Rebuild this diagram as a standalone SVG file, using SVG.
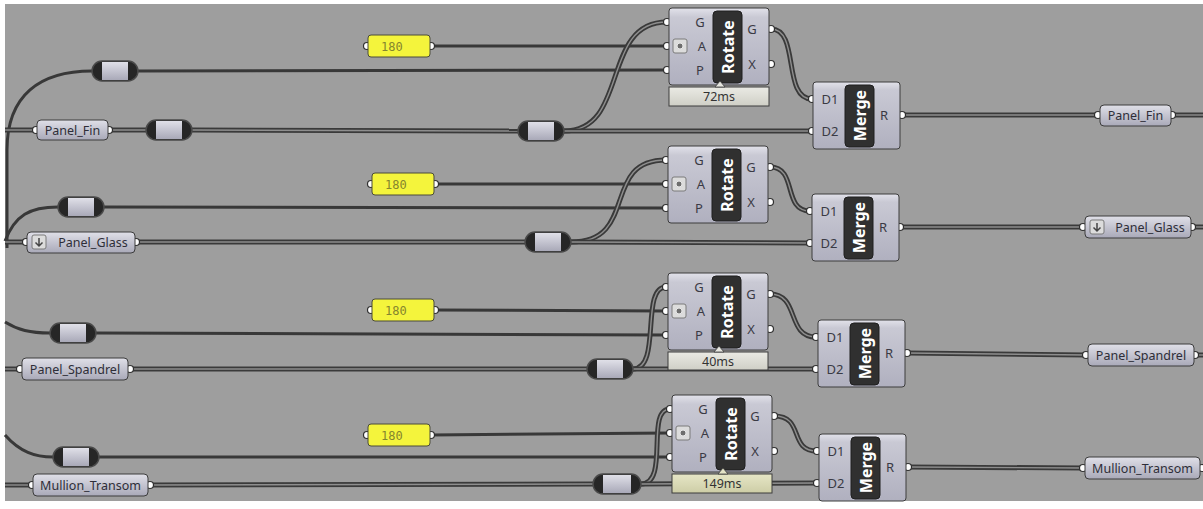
<svg xmlns="http://www.w3.org/2000/svg" xmlns:xlink="http://www.w3.org/1999/xlink" width="1203" height="509" viewBox="0 0 1203 509">
<defs>
<linearGradient id="gBody" x1="0" y1="0" x2="0" y2="1">
<stop offset="0" stop-color="#e2e2ea"/><stop offset="0.12" stop-color="#c9c9d4"/><stop offset="1" stop-color="#b0b0bf"/>
</linearGradient>
<linearGradient id="gPanel" x1="0" y1="0" x2="0" y2="1">
<stop offset="0" stop-color="#e0e0e8"/><stop offset="0.5" stop-color="#c4c4d0"/><stop offset="1" stop-color="#a9a9b8"/>
</linearGradient>
<linearGradient id="gBar" x1="0" y1="0" x2="0" y2="1">
<stop offset="0" stop-color="#eaeae4"/><stop offset="1" stop-color="#cfcfc6"/>
</linearGradient>
<linearGradient id="gBarY" x1="0" y1="0" x2="0" y2="1">
<stop offset="0" stop-color="#e6e6c6"/><stop offset="1" stop-color="#cdcda6"/>
</linearGradient>
<style>
.w1{fill:none;stroke:#383838;stroke-width:3}
.w2o{fill:none;stroke:#3a3a3a;stroke-width:5}
.w2i{fill:none;stroke:#8e8e8e;stroke-width:1.4}
.grip{fill:#ffffff;stroke:#303030;stroke-width:1.2}
.pbody{fill:url(#gPanel);stroke:#3c3c3c;stroke-width:1}
.cbody{fill:url(#gBody);stroke:#3c3c3c;stroke-width:1}
.plab{font-family:"Noto Sans","Open Sans",sans-serif;font-size:12.5px;fill:#2e2e38;text-anchor:middle}
.port{font-family:"Noto Sans","Open Sans",sans-serif;font-size:13px;fill:#3a3a44;text-anchor:middle}
.blk{fill:#303030;stroke:#1e1e1e;stroke-width:1}
.btxt{font-family:"Noto Sans","DejaVu Sans",sans-serif;font-size:16px;font-weight:bold;fill:#ffffff;text-anchor:middle}
.rcap{fill:#262626;stroke:#4a4a4a;stroke-width:1.5}
.rmid{fill:url(#gPanel)}
.slider{fill:#f4f43c;stroke:#4a4a3a;stroke-width:1}
.stxt{font-family:"DejaVu Sans Mono","Liberation Mono",monospace;font-size:12px;fill:#85852e}
.bar{fill:url(#gBar);stroke:#3c3c3c;stroke-width:1}
.barY{fill:url(#gBarY);stroke:#3c3c3c;stroke-width:1}
.btx{font-family:"Noto Sans","Open Sans",sans-serif;font-size:12.5px;fill:#333333;text-anchor:middle}
.ico{fill:#dcdcdc;stroke:#7a7a7a;stroke-width:1}
.icoc{fill:#6e6e6e;stroke:#e8e8e8;stroke-width:1}
</style>
<path id="a1" d="M5,130 L36,130"/>
<path id="a2" d="M109,130 L146,130"/>
<path id="a3" d="M192,130 L518,131"/>
<path id="a4" d="M564,131 C630,131 600,22 667,22"/>
<path id="a5" d="M564,131 L812,131"/>
<path id="a6" d="M771,29 C800,29 782,99 812,99"/>
<path id="a7" d="M902,115 L1098,115"/>
<path id="a8" d="M1172,115 L1203,115"/>
<path id="b1" d="M5,242 L26,242"/>
<path id="b2" d="M136,242 L525,242"/>
<path id="b3" d="M571,242 C640,242 600,160 666,160"/>
<path id="b4" d="M571,242 L810,243"/>
<path id="b5" d="M770,167 C798,167 782,211 810,211"/>
<path id="b6" d="M900,227 L1083,227"/>
<path id="b7" d="M1192,227 L1203,227"/>
<path id="c1" d="M5,369 L20,369"/>
<path id="c2" d="M130,369 L587,369"/>
<path id="c3" d="M633,369 C662,369 640,287 666,287"/>
<path id="c4" d="M633,369 L816,369"/>
<path id="c5" d="M770,294 C800,294 786,337 816,337"/>
<path id="c6" d="M907,353 L1086,355"/>
<path id="c7" d="M1195,355 L1203,355"/>
<path id="d1" d="M5,485 L32,485"/>
<path id="d2" d="M150,485 L593,484"/>
<path id="d3" d="M641,484 C670,484 645,409 670,409"/>
<path id="d4" d="M641,484 L817,483"/>
<path id="d5" d="M774,416 C805,416 788,451 817,451"/>
<path id="d6" d="M908,467 L1083,468"/>
</defs>
<rect x="0" y="0" width="1203" height="509" fill="#ffffff"/>
<rect x="5" y="4" width="1198" height="497" fill="#9e9e9e"/>

<g id="connectors">
<path class="w1" d="M431,46 L667,46"/>
<path class="w1" d="M138,71 L667,70"/>
<path class="w1" d="M7,248 L7,150 C7,95 40,71 92,71"/>
<path class="w1" d="M435,184 L666,184"/>
<path class="w1" d="M104,207 L666,208"/>
<path class="w1" d="M5,241 C15,215 30,207 58,207"/>
<path class="w1" d="M435,310 L666,311"/>
<path class="w1" d="M96,333 L666,335"/>
<path class="w1" d="M5,322 C18,330 30,333 50,333"/>
<path class="w1" d="M431,435 L670,433"/>
<path class="w1" d="M99,457 L670,457"/>
<path class="w1" d="M5,435 C20,452 35,457 53,457"/>
<use xlink:href="#a1" class="w2o"/><use xlink:href="#a1" class="w2i"/>
<use xlink:href="#a2" class="w2o"/><use xlink:href="#a2" class="w2i"/>
<use xlink:href="#a3" class="w2o"/><use xlink:href="#a3" class="w2i"/>
<use xlink:href="#a4" class="w2o"/><use xlink:href="#a4" class="w2i"/>
<use xlink:href="#a5" class="w2o"/><use xlink:href="#a5" class="w2i"/>
<use xlink:href="#a6" class="w2o"/><use xlink:href="#a6" class="w2i"/>
<use xlink:href="#a7" class="w2o"/><use xlink:href="#a7" class="w2i"/>
<use xlink:href="#a8" class="w2o"/><use xlink:href="#a8" class="w2i"/>
<use xlink:href="#b1" class="w2o"/><use xlink:href="#b1" class="w2i"/>
<use xlink:href="#b2" class="w2o"/><use xlink:href="#b2" class="w2i"/>
<use xlink:href="#b3" class="w2o"/><use xlink:href="#b3" class="w2i"/>
<use xlink:href="#b4" class="w2o"/><use xlink:href="#b4" class="w2i"/>
<use xlink:href="#b5" class="w2o"/><use xlink:href="#b5" class="w2i"/>
<use xlink:href="#b6" class="w2o"/><use xlink:href="#b6" class="w2i"/>
<use xlink:href="#b7" class="w2o"/><use xlink:href="#b7" class="w2i"/>
<use xlink:href="#c1" class="w2o"/><use xlink:href="#c1" class="w2i"/>
<use xlink:href="#c2" class="w2o"/><use xlink:href="#c2" class="w2i"/>
<use xlink:href="#c3" class="w2o"/><use xlink:href="#c3" class="w2i"/>
<use xlink:href="#c4" class="w2o"/><use xlink:href="#c4" class="w2i"/>
<use xlink:href="#c5" class="w2o"/><use xlink:href="#c5" class="w2i"/>
<use xlink:href="#c6" class="w2o"/><use xlink:href="#c6" class="w2i"/>
<use xlink:href="#c7" class="w2o"/><use xlink:href="#c7" class="w2i"/>
<use xlink:href="#d1" class="w2o"/><use xlink:href="#d1" class="w2i"/>
<use xlink:href="#d2" class="w2o"/><use xlink:href="#d2" class="w2i"/>
<use xlink:href="#d3" class="w2o"/><use xlink:href="#d3" class="w2i"/>
<use xlink:href="#d4" class="w2o"/><use xlink:href="#d4" class="w2i"/>
<use xlink:href="#d5" class="w2o"/><use xlink:href="#d5" class="w2i"/>
<use xlink:href="#d6" class="w2o"/><use xlink:href="#d6" class="w2i"/>
</g>

<!-- Group 1 -->
<g id="slider-1">
<circle class="grip" cx="367" cy="46" r="3.5"/><circle class="grip" cx="431" cy="46" r="3.5"/>
<rect class="slider" x="368" y="35" width="62" height="22" rx="3"/>
<text class="stxt" x="381" y="50.5">180</text>
</g>
<g id="relay-1a">
<rect class="rcap" x="92" y="61" width="46" height="20" rx="10"/>
<rect class="rmid" x="102" y="62" width="26" height="18"/>
</g>
<g id="panel-fin-in">
<circle class="grip" cx="36" cy="130" r="3.5"/><circle class="grip" cx="109" cy="130" r="3.5"/>
<rect class="pbody" x="37" y="120" width="71" height="20" rx="4"/>
<text class="plab" x="72.5" y="134.5">Panel_Fin</text>
</g>
<g id="relay-1b">
<rect class="rcap" x="146" y="120" width="46" height="20" rx="10"/>
<rect class="rmid" x="156" y="121" width="26" height="18"/>
</g>
<g id="relay-1c">
<rect class="rcap" x="518" y="121" width="46" height="20" rx="10"/>
<rect class="rmid" x="528" y="122" width="26" height="18"/>
</g>
<g id="rotate-1">
<circle class="grip" cx="667" cy="22" r="3.5"/><circle class="grip" cx="667" cy="46" r="3.5"/><circle class="grip" cx="667" cy="70" r="3.5"/>
<circle class="grip" cx="771" cy="29" r="3.5"/><circle class="grip" cx="771" cy="64" r="3.5"/>
<rect class="cbody" x="669" y="8" width="100" height="77" rx="3"/>
<rect class="blk" x="713" y="11" width="29" height="72" rx="4"/>
<text class="btxt" transform="translate(733.5,47) rotate(-90)">Rotate</text>
<text class="port" x="700" y="27">G</text>
<rect class="ico" x="673" y="39" width="14" height="14" rx="2"/><circle class="icoc" cx="680" cy="46" r="3"/>
<text class="port" x="702" y="51">A</text>
<text class="port" x="700" y="75">P</text>
<text class="port" x="752" y="34">G</text>
<text class="port" x="752" y="69">X</text>
<rect class="bar" x="669" y="87" width="100" height="19"/>
<polygon points="715,87 720,81 725,87" fill="#e6e6e0" stroke="#3c3c3c" stroke-width="0.8"/>
<text class="btx" x="719" y="101">72ms</text>
</g>
<g id="merge-1">
<circle class="grip" cx="812" cy="99" r="3.5"/><circle class="grip" cx="812" cy="131" r="3.5"/><circle class="grip" cx="902" cy="115" r="3.5"/>
<rect class="cbody" x="813" y="82" width="87" height="67" rx="3"/>
<rect class="blk" x="845" y="85" width="29" height="62" rx="4"/>
<text class="btxt" transform="translate(865.5,115.5) rotate(-90)">Merge</text>
<text class="port" x="830" y="104">D1</text>
<text class="port" x="830" y="136">D2</text>
<text class="port" x="884" y="120">R</text>
</g>
<g id="panel-fin-out">
<circle class="grip" cx="1098" cy="115" r="3.5"/><circle class="grip" cx="1172" cy="115" r="3.5"/>
<rect class="pbody" x="1100" y="105" width="71" height="21" rx="4"/>
<text class="plab" x="1135.5" y="120">Panel_Fin</text>
</g>

<!-- Group 2 -->
<g id="slider-2">
<circle class="grip" cx="371" cy="184" r="3.5"/><circle class="grip" cx="435" cy="184" r="3.5"/>
<rect class="slider" x="372" y="173" width="62" height="22" rx="3"/>
<text class="stxt" x="385" y="188.5">180</text>
</g>
<g id="relay-2a">
<rect class="rcap" x="58" y="197" width="46" height="20" rx="10"/>
<rect class="rmid" x="68" y="198" width="26" height="18"/>
</g>
<g id="panel-glass-in">
<circle class="grip" cx="26" cy="242" r="3.5"/><circle class="grip" cx="136" cy="242" r="3.5"/>
<rect class="pbody" x="27" y="232" width="108" height="21" rx="4"/>
<rect class="ico" x="32" y="235" width="14" height="14" rx="2" fill="#e4e4e8"/>
<path d="M39,238 L39,246 M35.5,242.5 L39,246 L42.5,242.5" fill="none" stroke="#444" stroke-width="1.5"/>
<text class="plab" x="93" y="247">Panel_Glass</text>
</g>
<g id="relay-2b">
<rect class="rcap" x="525" y="232" width="46" height="20" rx="10"/>
<rect class="rmid" x="535" y="233" width="26" height="18"/>
</g>
<g id="rotate-2">
<circle class="grip" cx="666" cy="160" r="3.5"/><circle class="grip" cx="666" cy="184" r="3.5"/><circle class="grip" cx="666" cy="208" r="3.5"/>
<circle class="grip" cx="770" cy="167" r="3.5"/><circle class="grip" cx="770" cy="202" r="3.5"/>
<rect class="cbody" x="668" y="146" width="100" height="77" rx="3"/>
<rect class="blk" x="712" y="149" width="29" height="72" rx="4"/>
<text class="btxt" transform="translate(732.5,185) rotate(-90)">Rotate</text>
<text class="port" x="699" y="165">G</text>
<rect class="ico" x="672" y="177" width="14" height="14" rx="2"/><circle class="icoc" cx="679" cy="184" r="3"/>
<text class="port" x="701" y="189">A</text>
<text class="port" x="699" y="213">P</text>
<text class="port" x="751" y="172">G</text>
<text class="port" x="751" y="207">X</text>
</g>
<g id="merge-2">
<circle class="grip" cx="810" cy="211" r="3.5"/><circle class="grip" cx="810" cy="243" r="3.5"/><circle class="grip" cx="900" cy="227" r="3.5"/>
<rect class="cbody" x="812" y="194" width="87" height="67" rx="3"/>
<rect class="blk" x="844" y="197" width="29" height="62" rx="4"/>
<text class="btxt" transform="translate(864.5,227.5) rotate(-90)">Merge</text>
<text class="port" x="829" y="216">D1</text>
<text class="port" x="829" y="248">D2</text>
<text class="port" x="883" y="232">R</text>
</g>
<g id="panel-glass-out">
<circle class="grip" cx="1083" cy="227" r="3.5"/><circle class="grip" cx="1192" cy="227" r="3.5"/>
<rect class="pbody" x="1085" y="216" width="106" height="22" rx="4"/>
<rect class="ico" x="1090" y="220" width="14" height="14" rx="2" fill="#e4e4e8"/>
<path d="M1097,223 L1097,231 M1093.5,227.5 L1097,231 L1100.5,227.5" fill="none" stroke="#444" stroke-width="1.5"/>
<text class="plab" x="1150" y="232">Panel_Glass</text>
</g>

<!-- Group 3 -->
<g id="slider-3">
<circle class="grip" cx="371" cy="310" r="3.5"/><circle class="grip" cx="435" cy="310" r="3.5"/>
<rect class="slider" x="372" y="299" width="62" height="22" rx="3"/>
<text class="stxt" x="385" y="314.5">180</text>
</g>
<g id="relay-3a">
<rect class="rcap" x="50" y="323" width="46" height="20" rx="10"/>
<rect class="rmid" x="60" y="324" width="26" height="18"/>
</g>
<g id="panel-spandrel-in">
<circle class="grip" cx="20" cy="369" r="3.5"/><circle class="grip" cx="130" cy="369" r="3.5"/>
<rect class="pbody" x="22" y="358" width="106" height="22" rx="4"/>
<text class="plab" x="75" y="373.5">Panel_Spandrel</text>
</g>
<g id="relay-3b">
<rect class="rcap" x="587" y="359" width="46" height="20" rx="10"/>
<rect class="rmid" x="597" y="360" width="26" height="18"/>
</g>
<g id="rotate-3">
<circle class="grip" cx="666" cy="287" r="3.5"/><circle class="grip" cx="666" cy="311" r="3.5"/><circle class="grip" cx="666" cy="335" r="3.5"/>
<circle class="grip" cx="770" cy="294" r="3.5"/><circle class="grip" cx="770" cy="329" r="3.5"/>
<rect class="cbody" x="668" y="273" width="100" height="77" rx="3"/>
<rect class="blk" x="712" y="276" width="29" height="72" rx="4"/>
<text class="btxt" transform="translate(732.5,312) rotate(-90)">Rotate</text>
<text class="port" x="699" y="292">G</text>
<rect class="ico" x="672" y="304" width="14" height="14" rx="2"/><circle class="icoc" cx="679" cy="311" r="3"/>
<text class="port" x="701" y="316">A</text>
<text class="port" x="699" y="340">P</text>
<text class="port" x="751" y="299">G</text>
<text class="port" x="751" y="334">X</text>
<rect class="bar" x="668" y="352" width="100" height="18"/>
<polygon points="714,352 719,346 724,352" fill="#e6e6e0" stroke="#3c3c3c" stroke-width="0.8"/>
<text class="btx" x="718" y="366">40ms</text>
</g>
<g id="merge-3">
<circle class="grip" cx="816" cy="337" r="3.5"/><circle class="grip" cx="816" cy="369" r="3.5"/><circle class="grip" cx="907" cy="353" r="3.5"/>
<rect class="cbody" x="818" y="320" width="87" height="67" rx="3"/>
<rect class="blk" x="850" y="323" width="29" height="62" rx="4"/>
<text class="btxt" transform="translate(870.5,353.5) rotate(-90)">Merge</text>
<text class="port" x="835" y="342">D1</text>
<text class="port" x="835" y="374">D2</text>
<text class="port" x="889" y="358">R</text>
</g>
<g id="panel-spandrel-out">
<circle class="grip" cx="1086" cy="355" r="3.5"/><circle class="grip" cx="1195" cy="355" r="3.5"/>
<rect class="pbody" x="1088" y="344" width="106" height="22" rx="4"/>
<text class="plab" x="1141" y="359.5">Panel_Spandrel</text>
</g>

<!-- Group 4 -->
<g id="slider-4">
<circle class="grip" cx="367" cy="435" r="3.5"/><circle class="grip" cx="431" cy="435" r="3.5"/>
<rect class="slider" x="368" y="424" width="62" height="22" rx="3"/>
<text class="stxt" x="381" y="439.5">180</text>
</g>
<g id="relay-4a">
<rect class="rcap" x="53" y="447" width="46" height="20" rx="10"/>
<rect class="rmid" x="63" y="448" width="26" height="18"/>
</g>
<g id="panel-mullion-in">
<circle class="grip" cx="32" cy="485" r="3.5"/><circle class="grip" cx="150" cy="485" r="3.5"/>
<rect class="pbody" x="33" y="474" width="115" height="22" rx="4"/>
<text class="plab" x="90.5" y="489.5">Mullion_Transom</text>
</g>
<g id="relay-4b">
<rect class="rcap" x="593" y="474" width="48" height="20" rx="10"/>
<rect class="rmid" x="603" y="475" width="28" height="18"/>
</g>
<g id="rotate-4">
<circle class="grip" cx="670" cy="409" r="3.5"/><circle class="grip" cx="670" cy="433" r="3.5"/><circle class="grip" cx="670" cy="457" r="3.5"/>
<circle class="grip" cx="774" cy="416" r="3.5"/><circle class="grip" cx="774" cy="451" r="3.5"/>
<rect class="cbody" x="672" y="395" width="100" height="77" rx="3"/>
<rect class="blk" x="716" y="398" width="29" height="72" rx="4"/>
<text class="btxt" transform="translate(736.5,434) rotate(-90)">Rotate</text>
<text class="port" x="703" y="414">G</text>
<rect class="ico" x="676" y="426" width="14" height="14" rx="2"/><circle class="icoc" cx="683" cy="433" r="3"/>
<text class="port" x="705" y="438">A</text>
<text class="port" x="703" y="462">P</text>
<text class="port" x="755" y="421">G</text>
<text class="port" x="755" y="456">X</text>
<rect class="barY" x="672" y="474" width="100" height="19"/>
<polygon points="718,474 723,468 728,474" fill="#e4e4c8" stroke="#3c3c3c" stroke-width="0.8"/>
<text class="btx" x="722" y="488">149ms</text>
</g>
<g id="merge-4">
<circle class="grip" cx="817" cy="451" r="3.5"/><circle class="grip" cx="817" cy="483" r="3.5"/><circle class="grip" cx="908" cy="467" r="3.5"/>
<rect class="cbody" x="819" y="434" width="87" height="67" rx="3"/>
<rect class="blk" x="851" y="437" width="29" height="62" rx="4"/>
<text class="btxt" transform="translate(871.5,467.5) rotate(-90)">Merge</text>
<text class="port" x="836" y="456">D1</text>
<text class="port" x="836" y="488">D2</text>
<text class="port" x="890" y="472">R</text>
</g>
<g id="panel-mullion-out">
<circle class="grip" cx="1083" cy="468" r="3.5"/><circle class="grip" cx="1202" cy="468" r="3.5"/>
<rect class="pbody" x="1085" y="457" width="115" height="22" rx="4"/>
<text class="plab" x="1142.5" y="472.5">Mullion_Transom</text>
</g>
</svg>
